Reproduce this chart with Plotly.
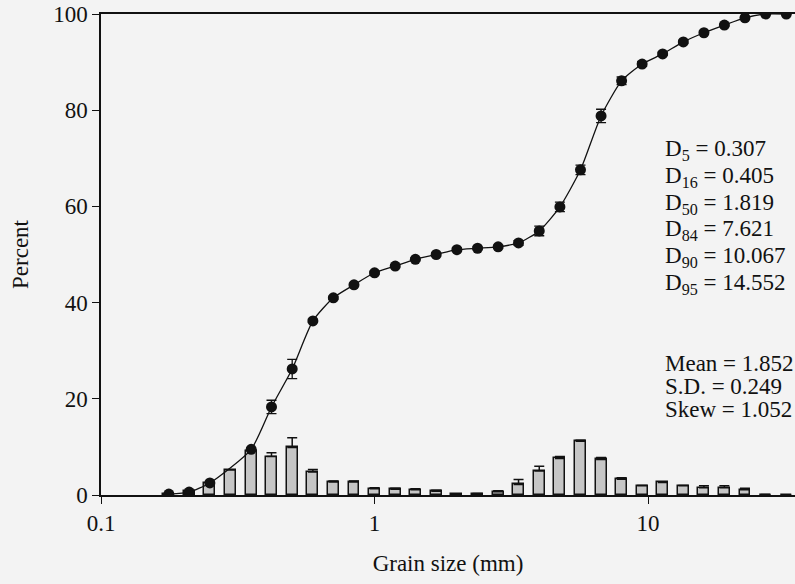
import numpy as np
import plotly.graph_objects as go

# Sieve sizes (mm), quarter-phi intervals
sizes = [0.177, 0.210, 0.250, 0.297, 0.354, 0.420, 0.500, 0.595, 0.707, 0.841,
         1.00, 1.19, 1.41, 1.68, 2.00, 2.38, 2.83, 3.36, 4.00, 4.76,
         5.66, 6.73, 8.00, 9.51, 11.3, 13.45, 16.0, 19.0, 22.6, 26.9, 32.0]

# Percent retained per size class and its upper error
retained = [0.2, 0.9, 2.4, 5.2, 9.2, 8.0, 9.9, 4.8, 2.7, 2.7,
            1.3, 1.2, 1.1, 0.8, 0.2, 0.3, 0.7, 2.2, 5.0, 7.6,
            11.2, 7.4, 3.3, 1.9, 2.6, 1.9, 1.5, 1.5, 1.1, 0.1, 0.0]
retained_err = [0.0, 0.0, 0.0, 0.0, 0.0, 0.8, 2.0, 0.5, 0.2, 0.2,
                0.2, 0.2, 0.2, 0.2, 0.0, 0.0, 0.2, 1.0, 1.0, 0.4,
                0.2, 0.4, 0.3, 0.1, 0.1, 0.1, 0.4, 0.4, 0.3, 0.0, 0.0]

# Cumulative percent finer
cum_sizes = [0.177, 0.210, 0.250, 0.354, 0.420, 0.500, 0.595, 0.707, 0.841,
             1.00, 1.19, 1.41, 1.68, 2.00, 2.38, 2.83, 3.36, 4.00, 4.76,
             5.66, 6.73, 8.00, 9.51, 11.3, 13.45, 16.0, 19.0, 22.6, 26.9, 32.0]
cum_pct = [0.2, 0.6, 2.5, 9.5, 18.3, 26.2, 36.2, 41.0, 43.7,
           46.2, 47.6, 49.0, 50.0, 51.0, 51.3, 51.6, 52.4, 54.9, 59.9,
           67.6, 78.8, 86.1, 89.6, 91.7, 94.2, 96.1, 97.7, 99.2, 100.0, 100.0]
cum_err = [0, 0, 0, 0, 1.4, 2.0, 0.3, 0.3, 0.3,
           0.3, 0.3, 0.3, 0.3, 0.3, 0.3, 0.3, 0.5, 1.0, 1.0,
           1.0, 1.4, 0.8, 0.5, 0.3, 0.3, 0.3, 0.2, 0.2, 0, 0]

stats_lines = ["D<sub>5</sub> = 0.307", "D<sub>16</sub> = 0.405", "D<sub>50</sub> = 1.819",
               "D<sub>84</sub> = 7.621", "D<sub>90</sub> = 10.067", "D<sub>95</sub> = 14.552"]
moment_lines = ["Mean = 1.852", "S.D. = 0.249", "Skew = 1.052"]

FONT = "Liberation Serif"
FS = 23
BG = "#f3f3f3"
XR = [-1.0, 1.537]

fig = go.Figure()

# Histogram bars on a linear axis in log10 units (base layer)
fig.add_trace(go.Bar(
    x=np.log10(sizes), y=retained, width=0.04,
    marker=dict(color="#c6c6c6", line=dict(color="#111111", width=1.5)),
    error_y=dict(type="data", symmetric=False, array=retained_err,
                 arrayminus=[0] * len(retained_err),
                 color="#111111", thickness=1.5, width=5),
    xaxis="x", yaxis="y", showlegend=False,
))

# Cumulative curve on an overlaid log axis (drawn above the bars)
fig.add_trace(go.Scatter(
    x=cum_sizes, y=cum_pct, mode="lines+markers",
    line=dict(color="#111111", width=1.3, shape="spline", smoothing=0.6),
    marker=dict(color="#111111", size=11),
    error_y=dict(type="data", array=cum_err, color="#111111", thickness=1.3, width=5),
    xaxis="x2", yaxis="y", showlegend=False, cliponaxis=True,
))

fig.update_layout(
    width=795, height=584,
    margin=dict(l=101, r=0, t=14, b=89),
    paper_bgcolor=BG, plot_bgcolor=BG,
    font=dict(family=FONT, size=FS, color="#111111"),
    bargap=0,
    xaxis=dict(
        type="linear", range=XR, tickvals=[-1, 0, 1], ticktext=["0.1", "1", "10"],
        showline=True, linecolor="#111111", linewidth=1.5, mirror=True,
        ticks="outside", ticklen=7, tickwidth=1.3, tickcolor="#111111",
        showgrid=False, zeroline=False,
        tickfont=dict(family=FONT, size=FS),
        title=dict(text="Grain size (mm)", standoff=20, font=dict(family=FONT, size=FS)),
    ),
    xaxis2=dict(
        type="log", range=XR, overlaying="x", visible=False,
        showgrid=False, zeroline=False,
    ),
    yaxis=dict(
        range=[0, 100], tickvals=[0, 20, 40, 60, 80, 100],
        showline=True, linecolor="#111111", linewidth=1.5,
        ticks="outside", ticklen=7, tickwidth=1.3, tickcolor="#111111",
        showgrid=False, zeroline=False,
        tickfont=dict(family=FONT, size=FS),
        title=dict(text="Percent", standoff=18, font=dict(family=FONT, size=FS)),
    ),
)

# Summary statistics block (pixel positions, converted below)
plot_l, plot_w = 101, 795 - 101
plot_t, plot_h = 14, 584 - 14 - 89


def px_to_paper(xp, yp):
    return (xp - plot_l) / plot_w, 1 - (yp - plot_t) / plot_h


for i, t in enumerate(stats_lines):
    x, y = px_to_paper(663, 150 + i * 26.8)
    fig.add_annotation(x=x, y=y, xref="paper", yref="paper", text=t,
                       showarrow=False, xanchor="left", yanchor="middle",
                       font=dict(family=FONT, size=FS, color="#111111"))
for i, t in enumerate(moment_lines):
    x, y = px_to_paper(663, 363 + i * 23)
    fig.add_annotation(x=x, y=y, xref="paper", yref="paper", text=t,
                       showarrow=False, xanchor="left", yanchor="middle",
                       font=dict(family=FONT, size=FS, color="#111111"))

fig.write_html("out.html")
